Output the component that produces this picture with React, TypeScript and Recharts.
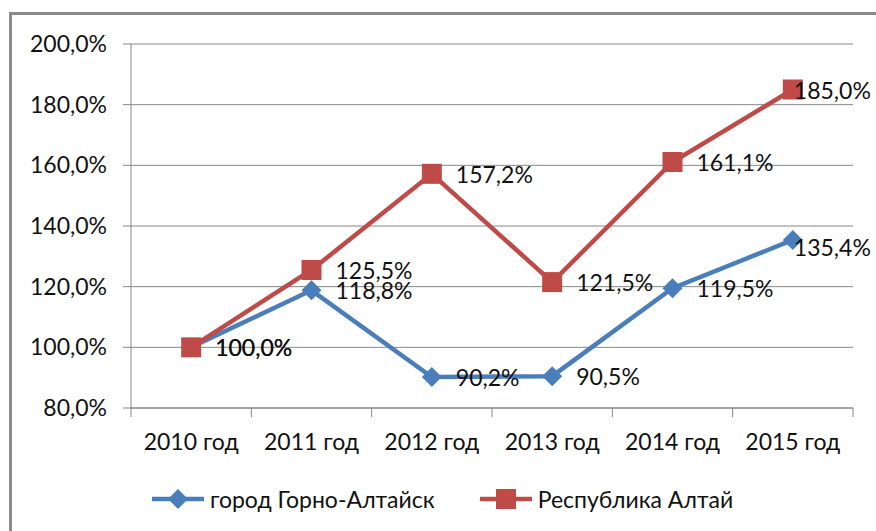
import React from 'react';
import { LineChart, Line, XAxis, YAxis, CartesianGrid, Legend } from 'recharts';

const categories = ['2010 год', '2011 год', '2012 год', '2013 год', '2014 год', '2015 год'];
const cityValues = [100.0, 118.8, 90.2, 90.5, 119.5, 135.4];
const republicValues = [100.0, 125.5, 157.2, 121.5, 161.1, 185.0];
const yTicks = [80, 100, 120, 140, 160, 180, 200];
const cityName = 'город Горно-Алтайск';
const republicName = 'Республика Алтай';

const data = categories.map((c, i) => ({ cat: c, city: cityValues[i], rep: republicValues[i] }));

const W = 876;
const H = 531;
const M = { top: 44, right: 23, left: 0, bottom: 0 };
const Y_W = 131;
const X_H = 123;
const BAND = (W - Y_W - M.right) / categories.length;

const FONT = 'Lato, "Open Sans", sans-serif';
const FS = 23;
const TEXT = '#111';
const BLUE = '#4A7EBB';
const RED = '#BE4B48';
const GRID = '#868686';

const fmt = (v: number) => v.toFixed(1).replace('.', ',') + '%';

const XTick = (props: any) => {
  const { x, y, payload, index } = props;
  const n = categories.length;
  return (
    <g>
      <line x1={x - BAND / 2} x2={x - BAND / 2} y1={y - 8} y2={y + 1} stroke={GRID} strokeWidth={1} />
      {index === n - 1 && (
        <line x1={x + BAND / 2} x2={x + BAND / 2} y1={y - 8} y2={y + 1} stroke={GRID} strokeWidth={1} />
      )}
      <text x={x} y={y + 34} textAnchor="middle" fontFamily={FONT} fontSize={FS} fill={TEXT}>
        {payload.value}
      </text>
    </g>
  );
};

const SquareDot = (props: any) => {
  const { cx, cy } = props;
  if (cx == null || cy == null) return null;
  return <rect x={cx - 10} y={cy - 10} width={20} height={20} fill={RED} />;
};

const DiamondDot = (props: any) => {
  const { cx, cy } = props;
  if (cx == null || cy == null) return null;
  const r = 10;
  return <path d={`M${cx},${cy - r} L${cx + r},${cy} L${cx},${cy + r} L${cx - r},${cy} Z`} fill={BLUE} />;
};

const makeLabel = (series: 'city' | 'rep') => (props: any) => {
  const { x, y, value, index } = props;
  const last = index === categories.length - 1;
  const dx = last ? 1 : 24;
  const dy = last && series === 'city' ? 8 : 1;
  return (
    <text x={x + dx} y={y + dy} dy="0.35em" fontFamily={FONT} fontSize={FS} fill={TEXT}>
      {fmt(value)}
    </text>
  );
};

const LegendContent = () => (
  <div style={{ display: 'flex', alignItems: 'center', paddingLeft: 152, fontFamily: FONT, fontSize: FS, color: TEXT }}>
    <svg width={52} height={22}>
      <line x1={0} x2={52} y1={11} y2={11} stroke={BLUE} strokeWidth={4.5} />
      <path d="M26,1 L36,11 L26,21 L16,11 Z" fill={BLUE} />
    </svg>
    <span style={{ marginLeft: 6 }}>{cityName}</span>
    <svg width={52} height={22} style={{ marginLeft: 45 }}>
      <line x1={0} x2={52} y1={11} y2={11} stroke={RED} strokeWidth={4.5} />
      <rect x={16} y={1} width={20} height={20} fill={RED} />
    </svg>
    <span style={{ marginLeft: 6 }}>{republicName}</span>
  </div>
);

export default function App() {
  return (
    <div style={{ position: 'absolute', left: 0, top: 0, width: W, height: H, overflow: 'hidden', background: '#fff' }}>
      <div
        style={{
          position: 'absolute',
          left: 9,
          top: 12,
          width: W,
          height: H,
          borderLeft: '3px solid #8a8a8a',
          borderTop: '3px solid #8a8a8a',
        }}
      />
      <div style={{ position: 'absolute', left: 0, top: 0 }}>
        <LineChart width={W} height={H} data={data} margin={M}>
          <CartesianGrid vertical={false} stroke={GRID} strokeWidth={1} />
          <XAxis
            dataKey="cat"
            scale="band"
            height={X_H}
            axisLine={{ stroke: GRID }}
            tickLine={false}
            tickSize={8}
            tickMargin={0}
            tick={<XTick />}
            interval={0}
          />
          <YAxis
            width={Y_W}
            domain={[80, 200]}
            ticks={yTicks}
            interval={0}
            tickFormatter={fmt}
            axisLine={{ stroke: GRID }}
            tickLine={{ stroke: GRID }}
            tickSize={8}
            tickMargin={16}
            tick={{ fontFamily: FONT, fontSize: FS, fill: TEXT }}
          />
          <Legend
            layout="horizontal"
            verticalAlign="middle"
            align="center"
            wrapperStyle={{ top: 485, left: 0, width: W }}
            content={<LegendContent />}
          />
          <Line
            dataKey="city"
            name={cityName}
            stroke={BLUE}
            strokeWidth={4.5}
            dot={<DiamondDot />}
            activeDot={false}
            label={makeLabel('city')}
            isAnimationActive={false}
          />
          <Line
            dataKey="rep"
            name={republicName}
            stroke={RED}
            strokeWidth={4.5}
            dot={<SquareDot />}
            activeDot={false}
            label={makeLabel('rep')}
            isAnimationActive={false}
          />
        </LineChart>
      </div>
    </div>
  );
}
